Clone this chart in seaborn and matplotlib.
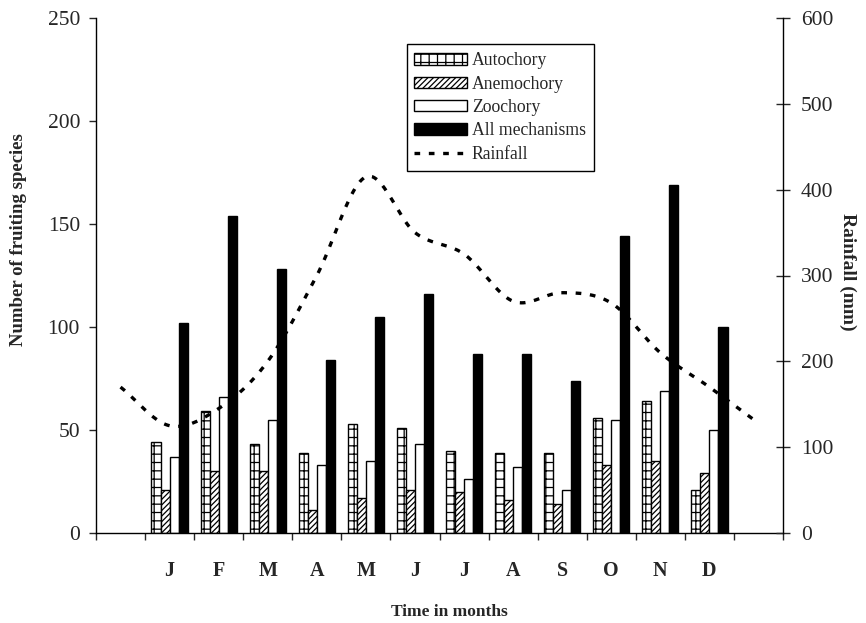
import numpy as np
import pandas as pd
import matplotlib
matplotlib.use("Agg")
import matplotlib.pyplot as plt
import seaborn as sns
from matplotlib.patches import Patch
from matplotlib.lines import Line2D

# Monthly counts of fruiting species by dispersal mechanism
months = ["Jan", "Feb", "Mar", "Apr", "May", "Jun",
          "Jul", "Aug", "Sep", "Oct", "Nov", "Dec"]
month_letters = ["J", "F", "M", "A", "M", "J", "J", "A", "S", "O", "N", "D"]
mechanisms = ["Autochory", "Anemochory", "Zoochory", "All mechanisms"]
autochory = [44, 59, 43, 39, 53, 51, 40, 39, 39, 56, 64, 21]
anemochory = [21, 30, 30, 11, 17, 21, 20, 16, 14, 33, 35, 29]
zoochory = [37, 66, 55, 33, 35, 43, 26, 32, 21, 55, 69, 50]
all_mechanisms = [102, 154, 128, 84, 105, 116, 87, 87, 74, 144, 169, 100]

# Rainfall (mm), including the padding slots before January and after December
slots = ["pre"] + months + ["post"]
rainfall = [170, 125, 145, 200, 300, 415, 350, 325, 270, 280, 268, 210, 170, 128]

counts = pd.DataFrame({"month": months, "Autochory": autochory,
                       "Anemochory": anemochory, "Zoochory": zoochory,
                       "All mechanisms": all_mechanisms})
long = counts.melt(id_vars="month", var_name="mechanism", value_name="count")

sns.set_style("ticks")
plt.rcParams["font.family"] = ["Liberation Serif", "DejaVu Serif"]
plt.rcParams["hatch.linewidth"] = 0.9

fig = plt.figure(figsize=(8.66, 6.23), dpi=100)
ax = fig.add_axes([96 / 866, 1 - 533 / 623, (783 - 96) / 866, (533 - 18) / 623])

palette = {"Autochory": "white", "Anemochory": "white",
           "Zoochory": "white", "All mechanisms": "black"}
sns.barplot(data=long, x="month", y="count", hue="mechanism",
            order=slots, hue_order=mechanisms, palette=palette,
            width=0.74, saturation=1, edgecolor="black", linewidth=1.0,
            legend=False, ax=ax)

hatches = ["++", "//////", "", ""]
for container, h in zip(ax.containers, hatches):
    for bar in container:
        bar.set_hatch(h)


def smooth_path(x, y, steps=24):
    """Catmull-Rom curve through the given points."""
    x = np.asarray(x, float)
    y = np.asarray(y, float)
    px = np.concatenate([[2 * x[0] - x[1]], x, [2 * x[-1] - x[-2]]])
    py = np.concatenate([[2 * y[0] - y[1]], y, [2 * y[-1] - y[-2]]])
    t = np.linspace(0, 1, steps, endpoint=False)
    xs, ys = [], []
    for i in range(1, len(px) - 2):
        for p, out in ((px, xs), (py, ys)):
            p0, p1, p2, p3 = p[i - 1], p[i], p[i + 1], p[i + 2]
            out.extend(0.5 * ((2 * p1) + (-p0 + p2) * t
                              + (2 * p0 - 5 * p1 + 4 * p2 - p3) * t ** 2
                              + (-p0 + 3 * p1 - 3 * p2 + p3) * t ** 3))
    xs.append(x[-1])
    ys.append(y[-1])
    return np.array(xs), np.array(ys)


ax2 = ax.twinx()
rx, ry = smooth_path(np.arange(len(slots)), rainfall)
rain_style = (0, (1.7, 2.6))
ax2.plot(rx, ry, color="black", lw=2.4, linestyle=rain_style,
         dash_capstyle="butt")

# Axes limits and ticks
ax.set_xlim(-0.5, len(slots) - 0.5)
ax.set_ylim(0, 250)
ax.set_yticks(np.arange(0, 251, 50))
ax2.set_ylim(0, 600)
ax2.set_yticks(np.arange(0, 601, 100))

ax.set_xticks(np.arange(-0.5, len(slots), 1))
ax.set_xticklabels([])
ax.set_xticks(np.arange(1, 13), month_letters, minor=True)
ax.tick_params(axis="x", which="major", direction="out", length=5, width=1)
ax.tick_params(axis="x", which="minor", length=0, pad=20, labelsize=14.5)
for lbl in ax.get_xticklabels(minor=True):
    lbl.set_fontweight("bold")
ax.tick_params(axis="y", direction="out", length=5, width=1, pad=6.5, labelsize=15.5)
ax2.tick_params(axis="y", direction="inout", length=10, width=1, pad=8, labelsize=15.5)

for a in (ax, ax2):
    a.spines["top"].set_visible(False)
    for s in a.spines.values():
        s.set_linewidth(1.0)
        s.set_color("black")
ax.spines["right"].set_visible(False)
ax2.spines["left"].set_visible(False)
ax2.spines["bottom"].set_visible(False)

ax.set_xlabel("Time in months", fontsize=12.5, fontweight="bold")
ax.xaxis.set_label_coords(0.514, -0.138)
ax.set_ylabel("Number of fruiting species", fontsize=13.5, fontweight="bold")
ax.yaxis.set_label_coords(-0.100, 0.569)
ax2.set_ylabel("Rainfall (mm)", fontsize=14, fontweight="bold", rotation=270)
ax2.yaxis.set_label_coords(1.106, 0.507)

handles = [Patch(facecolor="white", edgecolor="black", hatch=h, lw=1.0)
           for h in hatches[:3]]
handles.append(Patch(facecolor="black", edgecolor="black", lw=1.0))
handles.append(Line2D([0], [0], color="black", lw=2.4, linestyle=rain_style))
leg = ax2.legend(handles, mechanisms + ["Rainfall"], loc="upper left",
                 bbox_to_anchor=(0.452, 0.949), fontsize=12.7, frameon=True,
                 fancybox=False, edgecolor="black", framealpha=1,
                 handlelength=3.0, handleheight=0.6, handletextpad=0.25,
                 labelspacing=0.36, borderpad=0.45, borderaxespad=0)
leg.get_frame().set_linewidth(1.0)

fig.savefig("out.png", dpi=100)
